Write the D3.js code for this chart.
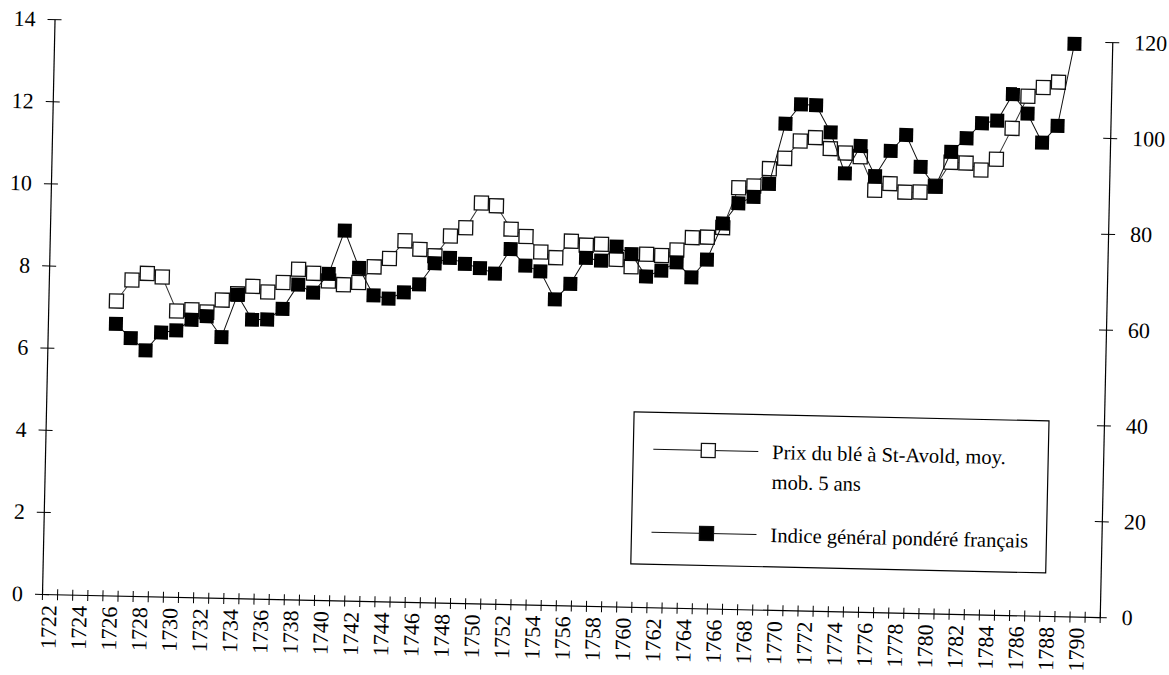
<!DOCTYPE html>
<html><head><meta charset="utf-8">
<script src="https://cdn.jsdelivr.net/npm/d3@7"></script>
<style>
body{margin:0;background:#fff}
svg{display:block}
</style>
</head><body>
<svg id="chart" width="1169" height="675"></svg>
<script>
// ---- data ----
const years = d3.range(1722, 1792);           // category axis 1722..1791
const yearLabels = d3.range(1722, 1791, 2);   // labels shown every 2 years
const wheatYears = d3.range(1726, 1789);
const wheat = [7.17,7.69,7.86,7.78,6.96,7.00,6.95,7.25,7.41,7.60,7.47,7.71,8.04,
  7.95,7.77,7.69,7.75,8.14,8.35,8.79,8.59,8.44,8.93,9.14,9.75,9.69,9.13,
  8.96,8.59,8.46,8.87,8.78,8.81,8.45,8.28,8.59,8.57,8.71,9.02,9.04,9.28,
  10.26,10.31,10.74,11.00,11.43,11.52,11.26,11.16,11.08,10.27,10.44,10.24,10.25,10.40,
  10.99,10.98,10.82,11.09,11.85,12.64,12.86,13.00];
const indexYears = d3.range(1726, 1790);
const indexVals = [56.7,53.8,51.3,55.1,55.6,57.9,58.7,54.4,63.3,58.2,58.3,60.6,65.7,
  64.1,68.1,77.2,69.5,63.8,63.2,64.6,66.3,70.8,72.0,70.8,70.0,68.9,74.1,
  70.7,69.6,63.8,67.1,72.6,72.1,75.1,73.6,69.0,70.3,72.1,69.0,72.8,80.4,
  84.7,86.1,88.9,101.5,105.6,105.5,99.9,91.4,97.2,91.0,96.3,99.7,93.1,89.1,
  96.4,99.3,102.5,103.1,108.7,104.7,98.75,102.3,119.5];
const leftTicks = [0,2,4,6,8,10,12,14];
const rightTicks = [0,20,40,60,80,100,120];
const legendLines = [["Prix du blé à St-Avold, moy.","mob. 5 ans"],["Indice général pondéré français"]];

// ---- layout ----
const L = 42, R = 1100, T = 19, B = 594;
const FONT = '"Liberation Serif", "Times New Roman", Tinos, serif';
const svg = d3.select("#chart");
const g = svg.append("g").attr("transform", `rotate(1.25, ${L}, ${B})`);

const x = d3.scaleBand().domain(years).range([L, R]).padding(0);
const xc = d => x(d) + x.bandwidth() / 2;
const xb = d3.scaleLinear().domain([0, years.length]).range([L, R]);
const yL = d3.scaleLinear().domain([0, 14]).range([B, T]);
const yR = d3.scaleLinear().domain([0, 120]).range([B, T]);

// x axis: tick marks at category boundaries
const xTickAxis = g.append("g").attr("transform", `translate(0,${B})`)
  .call(d3.axisBottom(xb).tickValues(d3.range(0, years.length + 1)).tickFormat("").tickSizeOuter(0));
xTickAxis.selectAll(".tick line").attr("y1", -5).attr("y2", 6);
// year labels
const xLab = g.append("g").attr("transform", `translate(0,${B})`)
  .call(d3.axisBottom(x).tickValues(yearLabels).tickSize(0).tickSizeOuter(0));
xLab.select(".domain").remove();
xLab.selectAll("text").style("font-size", "22px")
  .attr("text-anchor", "end").attr("transform", "rotate(-90)")
  .attr("x", -11).attr("y", 0).attr("dy", "0.33em");

// left axis
const la = g.append("g").attr("transform", `translate(${L},0)`)
  .call(d3.axisLeft(yL).tickValues(leftTicks).tickSizeOuter(0));
la.selectAll(".tick line").attr("x1", -7).attr("x2", 7);
la.selectAll("text").style("font-size", "22px").attr("x", -19);
// right axis
const ra = g.append("g").attr("transform", `translate(${R},0)`)
  .call(d3.axisRight(yR).tickValues(rightTicks).tickSizeOuter(0));
ra.selectAll(".tick line").attr("x1", -7).attr("x2", 7);
ra.selectAll("text").style("font-size", "22px").attr("x", 22);

g.selectAll(".domain").attr("stroke", "#000").attr("stroke-width", 1.2);
g.selectAll(".tick line").attr("stroke", "#000").attr("stroke-width", 1);

const S = 14;
// wheat series (open squares, left axis)
const wData = wheatYears.map((y, i) => ({y, v: wheat[i]}));
g.append("path").datum(wData)
  .attr("fill", "none").attr("stroke", "#333").attr("stroke-width", 1)
  .attr("d", d3.line().x(d => xc(d.y)).y(d => yL(d.v)));
g.selectAll("rect.w").data(wData).join("rect").attr("class", "w")
  .attr("x", d => xc(d.y) - S / 2).attr("y", d => yL(d.v) - S / 2)
  .attr("width", S).attr("height", S)
  .attr("fill", "#fff").attr("stroke", "#111").attr("stroke-width", 1.3);

// index series (filled squares, right axis)
const iData = indexYears.map((y, i) => ({y, v: indexVals[i]}));
g.append("path").datum(iData)
  .attr("fill", "none").attr("stroke", "#111").attr("stroke-width", 1)
  .attr("d", d3.line().x(d => xc(d.y)).y(d => yR(d.v)));
g.selectAll("rect.k").data(iData).join("rect").attr("class", "k")
  .attr("x", d => xc(d.y) - S / 2).attr("y", d => yR(d.v) - S / 2)
  .attr("width", S).attr("height", S).attr("fill", "#000");

// legend
const lg = g.append("g");
lg.append("rect").attr("x", 630).attr("y", 399).attr("width", 415).attr("height", 152)
  .attr("fill", "#fff").attr("stroke", "#000").attr("stroke-width", 1.2);
const entries = [{y: 436, filled: false, lines: legendLines[0]}, {y: 519, filled: true, lines: legendLines[1]}];
entries.forEach(e => {
  lg.append("line").attr("x1", 650).attr("x2", 755).attr("y1", e.y).attr("y2", e.y)
    .attr("stroke", "#111").attr("stroke-width", 1);
  lg.append("rect").attr("x", 705 - S / 2).attr("y", e.y - S / 2).attr("width", S).attr("height", S)
    .attr("fill", e.filled ? "#000" : "#fff").attr("stroke", "#111").attr("stroke-width", 1.3);
  e.lines.forEach((t, j) => {
    lg.append("text").attr("x", 769).attr("y", e.y + j * 30).attr("dy", "0.35em")
      .style("font-size", "20.5px").text(t);
  });
});

// apply serif font to every text element
g.selectAll("text").style("font-family", FONT).attr("fill", "#000");
</script>
</body></html>
